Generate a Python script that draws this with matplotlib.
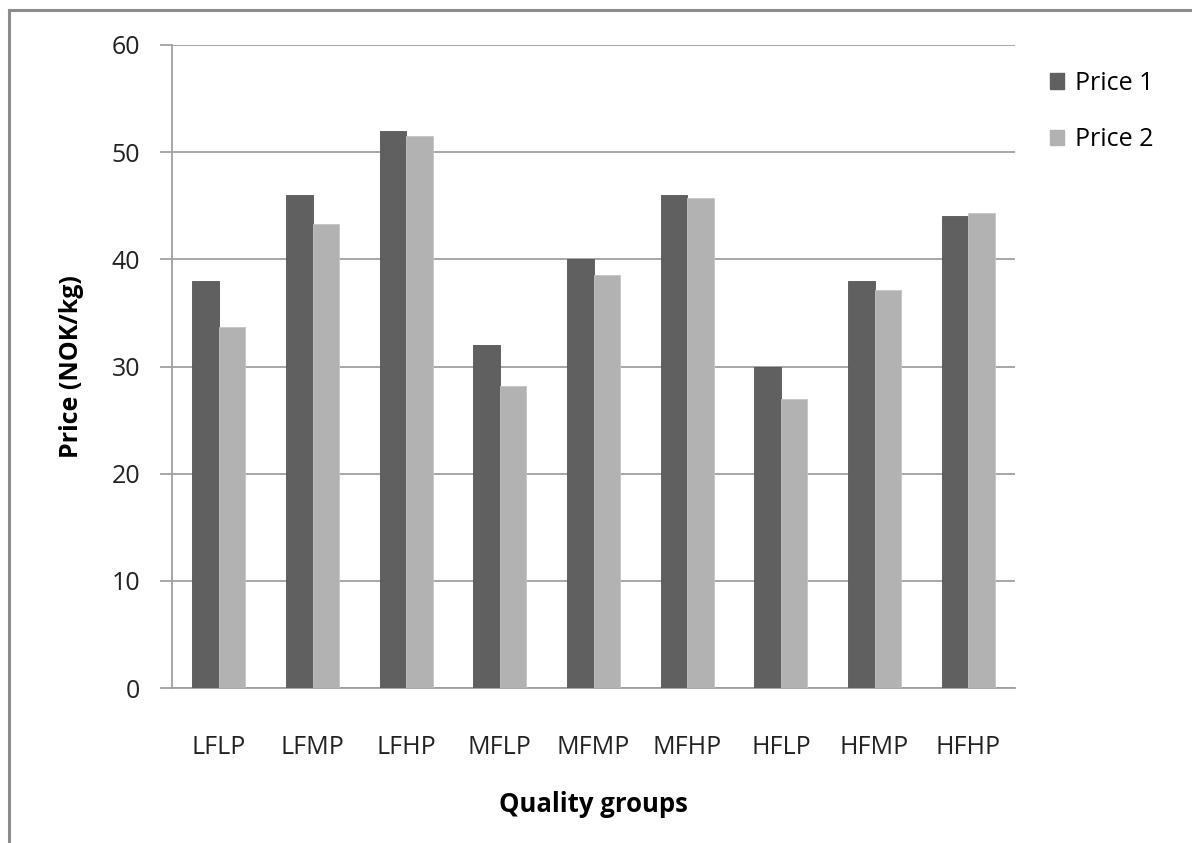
import matplotlib
matplotlib.use("Agg")
import matplotlib.pyplot as plt
import numpy as np
from matplotlib.lines import Line2D

categories = ["LFLP", "LFMP", "LFHP", "MFLP", "MFMP", "MFHP", "HFLP", "HFMP", "HFHP"]
price1 = [38.0, 46.0, 52.0, 32.0, 40.0, 46.0, 30.0, 38.0, 44.0]
price2 = [33.7, 43.3, 51.5, 28.2, 38.5, 45.7, 27.0, 37.1, 44.3]
series_names = ["Price 1", "Price 2"]
yticks = [0, 10, 20, 30, 40, 50, 60]

plt.rcParams['font.family'] = ['Open Sans', 'DejaVu Sans']

fig = plt.figure(figsize=(11.92, 8.43), dpi=100)
ax = fig.add_axes([172/1192, 1-688/843, (1015-172)/1192, (688-45)/843])

x = np.arange(len(categories))
w = 0.283
dark = "#606060"
light = "#b2b2b2"
ax.bar(x - w/2, price1, width=w, color=dark, edgecolor="#555555", linewidth=0.6, label=series_names[0], zorder=3)
ax.bar(x + w/2, price2, width=w, color=light, edgecolor="#c4c4c4", linewidth=0.6, label=series_names[1], zorder=3)

ax.set_xlim(-0.5, len(categories) - 0.5)
ax.set_ylim(0, 60)
ax.set_yticks(yticks)
ax.yaxis.grid(True, color="#a0a0a0", linewidth=1.3, zorder=0)
ax.set_axisbelow(True)
for s in ["top", "right"]:
    ax.spines[s].set_visible(False)
ax.spines["left"].set_color("#a0a0a0")
ax.spines["bottom"].set_color("#a0a0a0")
ax.spines["left"].set_linewidth(1.3)
ax.spines["bottom"].set_linewidth(1.3)
ax.tick_params(axis="y", length=9, width=1.3, color="#a0a0a0", labelsize=18, pad=14, labelcolor="#222222")
ax.tick_params(axis="x", length=0, labelsize=18, pad=34, labelcolor="#222222")
ax.set_xticks(x)
ax.set_xticklabels(categories)

ax.set_ylabel("Price (NOK/kg)", fontsize=18, fontweight="bold", labelpad=20)
ax.set_xlabel("Quality groups", fontsize=18.5, fontweight="bold", labelpad=22)

handles = [plt.Rectangle((0, 0), 1, 1, color=dark), plt.Rectangle((0, 0), 1, 1, color=light)]
fig.legend(handles, series_names, loc="upper left", bbox_to_anchor=(1050/1192, 1-71/843),
           frameon=False, fontsize=18, handlelength=0.55, handleheight=0.6,
           handletextpad=0.45, labelspacing=1.25, borderaxespad=0, borderpad=0)

# outer chart frame (left and top edges visible)
fig.add_artist(Line2D([9/1192, 9/1192], [0, 1-10/843], transform=fig.transFigure, color="#8c8c8c", linewidth=2.2))
fig.add_artist(Line2D([9/1192, 1], [1-10/843, 1-10/843], transform=fig.transFigure, color="#8c8c8c", linewidth=2.2))

fig.savefig("out.png", dpi=100)
